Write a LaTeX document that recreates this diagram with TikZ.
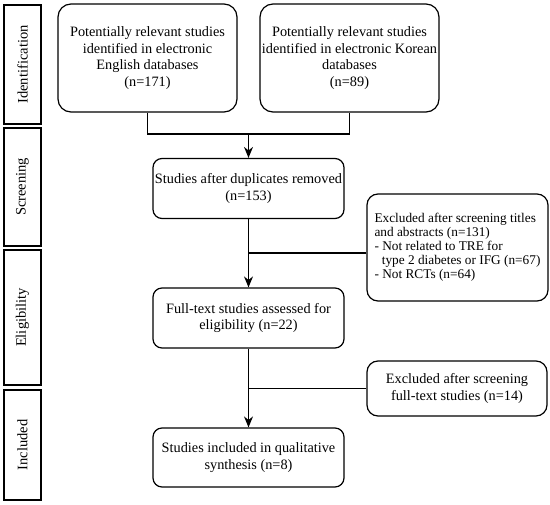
\documentclass[tikz,border=0pt]{standalone}
\usepackage{fontspec}
\setmainfont{Liberation Serif}
\usetikzlibrary{arrows.meta}
\begin{document}
\begin{tikzpicture}[x=1pt,y=-1pt,
  line width=1.2pt,
  box/.style={draw,rounded corners=9pt,align=center,inner sep=1pt,
    font=\fontsize{14.3}{16.8}\selectfont},
  bigbox/.style={box,rounded corners=13pt,minimum width=179pt,minimum height=108pt},
  midbox/.style={box,minimum width=191pt,minimum height=60pt},
  exbox/.style={box,rounded corners=11pt},
  side/.style={draw,line width=1.1pt,minimum width=37pt,rotate=90,
    font=\fontsize{14.5}{15}\selectfont},
  arr/.style={-{Stealth[length=11pt,width=9pt]}}]
\useasboundingbox (0,0) rectangle (550,505);
% side labels
\node[side,minimum width=119pt,minimum height=37pt] (s1) at (22.5,64.5) {Identification};
\node[side,minimum width=118pt,minimum height=37pt] (s2) at (22.5,187) {Screening};
\node[side,minimum width=135pt,minimum height=37pt] (s3) at (22.5,317.5) {Eligibility};
\node[side,minimum width=110pt,minimum height=37pt] (s4) at (22.5,445) {Included};
% main boxes
\node[bigbox] (b1) at (147.5,58) {Potentially relevant studies\\identified in electronic\\English databases\\(n=171)};
\node[bigbox] (b2) at (349.5,58) {Potentially relevant studies\\identified in electronic Korean\\databases\\(n=89)};
\node[midbox] (b3) at (248.5,188.5) {Studies after duplicates removed\\(n=153)};
\node[midbox] (b4) at (248.5,318) {Full-text studies assessed for\\eligibility (n=22)};
\node[midbox,minimum height=59pt] (b5) at (248.5,457.5) {Studies included in qualitative\\synthesis (n=8)};
\node[exbox,minimum width=181pt,minimum height=107pt,align=left,
  font=\fontsize{13.3}{14}\selectfont] (e1) at (457.5,247.5)
  {Excluded after screening titles\\and abstracts (n=131)\\- Not related to TRE for\\\hspace*{0.55em}type 2 diabetes or IFG (n=67)\\- Not RCTs (n=64)};
\node[exbox,minimum width=180pt,minimum height=55pt] (e2) at (457,388.5)
  {Excluded after screening\\full-text studies (n=14)};
% connectors
\coordinate (m) at (248.5,134);
\coordinate (j1) at (248.5,253);
\draw (b1.south) |- (m) -| (b2.south);
\draw[arr] (m) -- (b3.north);
\draw[arr] (b3.south) -- (b4.north);
\draw (e1.west |- j1) -- (j1);
\draw[arr] (b4.south) -- (b5.north);
\draw (e2.west) -- (e2.west -| b4.south);
\end{tikzpicture}
\end{document}
